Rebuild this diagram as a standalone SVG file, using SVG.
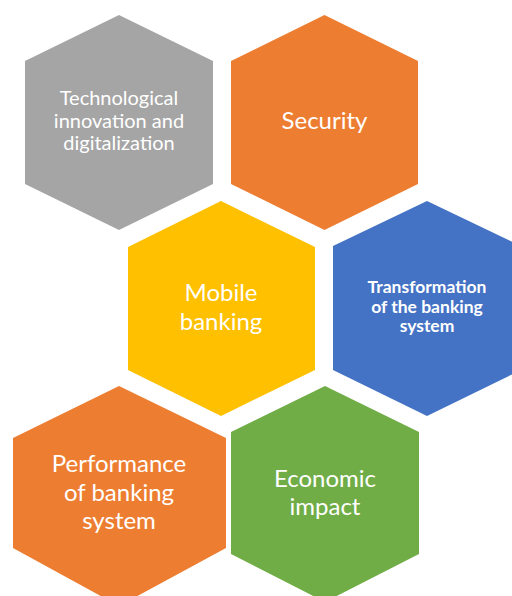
<svg xmlns="http://www.w3.org/2000/svg" width="512" height="596" viewBox="0 0 512 596">
<style>
text{font-family:Lato,"Open Sans","Liberation Sans",sans-serif;fill:#FFFFFF;text-anchor:middle}
.m{font-size:20px}
.l{font-size:24px}
.b{font-size:17.5px;font-weight:bold}
</style>
<rect width="512" height="596" fill="#FFFFFF"/>
<g id="tech">
<polygon points="119,15 213,61 213,184 119,230 25,184 25,61" fill="#A5A5A5"/>
<text class="m" x="119" y="105">Technological</text>
<text class="m" x="119" y="128">innovation and</text>
<text class="m" x="119" y="150">digitalization</text>
</g>
<g id="security">
<polygon points="324.5,15 418,61 418,184 324.5,230 231,184 231,61" fill="#ED7D31"/>
<text class="l" x="324.5" y="129">Security</text>
</g>
<g id="mobile">
<polygon points="221,201 315,247 315,370 221,416 128,370 128,247" fill="#FFC000"/>
<text class="l" x="221" y="301">Mobile</text>
<text class="l" x="221" y="330">banking</text>
</g>
<g id="transformation">
<polygon points="427,201 521,246 521,370 427,416 333,370 333,246" fill="#4472C4"/>
<text class="b" x="427" y="293">Transformation</text>
<text class="b" x="427" y="313">of the banking</text>
<text class="b" x="427" y="332">system</text>
</g>
<g id="performance">
<polygon points="119,386 226,438 226,548 119,606 13,548 13,438" fill="#ED7D31"/>
<text class="l" x="119" y="472">Performance</text>
<text class="l" x="119" y="501">of banking</text>
<text class="l" x="119" y="529">system</text>
</g>
<g id="economic">
<polygon points="325,386 419,432 419,554 325,602 231,554 231,432" fill="#70AD47"/>
<text class="l" x="325" y="487">Economic</text>
<text class="l" x="325" y="515">impact</text>
</g>
<g id="connectors"/>
</svg>
